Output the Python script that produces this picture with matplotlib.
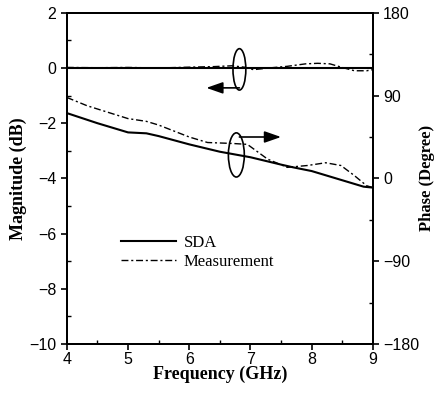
import matplotlib.pyplot as plt
from matplotlib.patches import Ellipse
from matplotlib.ticker import MultipleLocator

# ── data ────────────────────────────────────────────────────────────────────
freq_mag = [4.0, 4.5, 5.0, 5.5, 6.0, 6.4, 6.7, 6.9, 7.05, 7.3, 7.6, 7.9, 8.1, 8.3, 8.5, 8.7, 8.9, 9.0]
mag_sda = [0.0] * len(freq_mag)
mag_meas = [0.02, 0.01, 0.02, 0.0, 0.03, 0.05, 0.08, 0.03, -0.06, 0.0, 0.06, 0.15, 0.17, 0.15, 0.02, -0.1, -0.1, -0.06]

freq_sda = [4.0, 4.5, 5.0, 5.3, 5.5, 6.0, 6.5, 7.0, 7.5, 7.7, 8.0, 8.15, 8.5, 8.85, 9.0]
ph_sda = [71, 60, 50, 49, 46, 37, 29, 23, 15, 12, 8, 5, -2, -9, -10]

freq_meas = [4.0, 4.33, 5.0, 5.3, 5.5, 6.0, 6.3, 6.7, 6.95, 7.28, 7.6, 7.93, 8.23, 8.48, 8.7, 8.9, 9.0]
ph_meas = [88, 79, 65, 62, 58, 45, 39, 38, 37, 21, 12, 14, 17, 14, 3, -8, -10]

sans = "Liberation Sans"
serif = "Liberation Serif"

# ── figure ──────────────────────────────────────────────────────────────────
fig = plt.figure(figsize=(4.34, 4.0), dpi=100)
ax = fig.add_axes([0.154, 0.14, 0.705, 0.828])
ax2 = ax.twinx()

ax.plot(freq_mag, mag_sda, color="black", lw=1.5, label="SDA")
ax.plot(freq_mag, mag_meas, color="black", lw=1.0, dashes=(5, 2, 1.5, 2))
ax2.plot(freq_sda, ph_sda, color="black", lw=1.5)
ax2.plot(freq_meas, ph_meas, color="black", lw=1.0, dashes=(5, 2, 1.5, 2),
         label="Measurement")

ax.set_xlim(4, 9)
ax.set_ylim(-10, 2)
ax2.set_ylim(-180, 180)

ax.xaxis.set_major_locator(MultipleLocator(1))
ax.xaxis.set_minor_locator(MultipleLocator(0.5))
ax.yaxis.set_major_locator(MultipleLocator(2))
ax.yaxis.set_minor_locator(MultipleLocator(1))
ax2.yaxis.set_major_locator(MultipleLocator(90))
ax2.yaxis.set_minor_locator(MultipleLocator(45))

for a in (ax, ax2):
    a.tick_params(which="major", direction="out", length=4, width=1.2,
                  labelsize=11.5)
    a.tick_params(which="minor", direction="in", length=3, width=1.0)
    for lbl in a.get_xticklabels() + a.get_yticklabels():
        lbl.set_fontfamily(sans)
    for s in a.spines.values():
        s.set_linewidth(1.4)
ax.tick_params(axis="x", pad=2)

ax.set_xlabel("Frequency (GHz)", fontfamily=serif, fontweight="bold",
              fontsize=13, labelpad=-1)
ax.set_ylabel("Magnitude (dB)", fontfamily=serif, fontweight="bold",
              fontsize=13, labelpad=2)
ax2.set_ylabel("Phase (Degree)", fontfamily=serif, fontweight="bold",
               fontsize=12, labelpad=0)

# ── ellipse + arrow markers ─────────────────────────────────────────────────
ax.add_patch(Ellipse((6.82, -0.05), 0.21, 1.5, fill=False, lw=1.2, color="black"))
ax.add_patch(Ellipse((6.77, -3.15), 0.26, 1.6, fill=False, lw=1.2, color="black"))
ax.annotate("", xy=(6.28, -0.72), xytext=(6.82, -0.72),
            arrowprops=dict(arrowstyle="-|>,head_length=1.0,head_width=0.35",
                            color="black", lw=1.2, shrinkA=0, shrinkB=0))
ax.annotate("", xy=(7.5, -2.5), xytext=(6.82, -2.5),
            arrowprops=dict(arrowstyle="-|>,head_length=1.0,head_width=0.35",
                            color="black", lw=1.2, shrinkA=0, shrinkB=0))

# ── legend ──────────────────────────────────────────────────────────────────
h1, l1 = ax.get_legend_handles_labels()
h2, l2 = ax2.get_legend_handles_labels()
ax2.legend(h1 + h2, l1 + l2, loc="upper left", bbox_to_anchor=(0.128, 0.375),
           frameon=False, handlelength=3.3, handletextpad=0.45,
           labelspacing=0.2, prop={"family": serif, "size": 12})

fig.savefig("out.png", dpi=100)
